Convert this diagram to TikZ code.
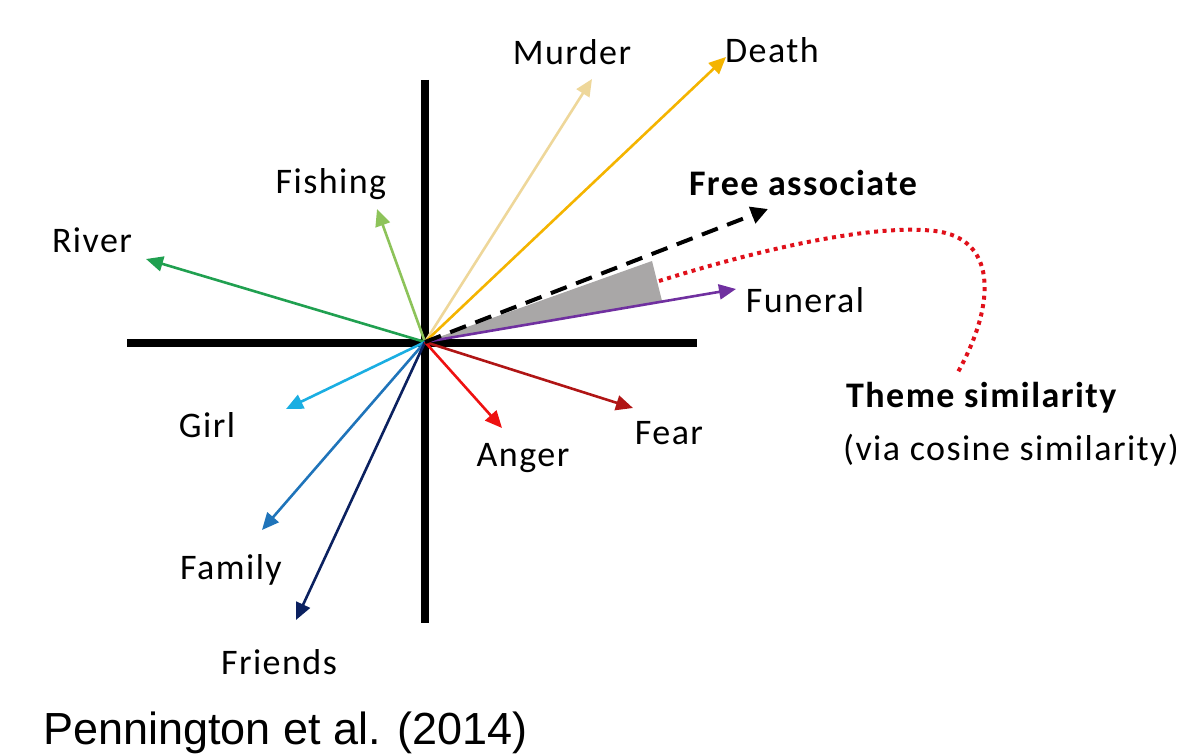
\documentclass[tikz,border=0pt]{standalone}
\usepackage{fontspec}
\setmainfont{Carlito}
\newfontfamily\arialfont{Liberation Sans}
\newfontfamily\lblfont[LetterSpace=4]{Carlito}
\usetikzlibrary{arrows.meta}
\definecolor{cMurder}{HTML}{EED79A}
\definecolor{cDeath}{HTML}{F4B400}
\definecolor{cFishing}{HTML}{8DC35A}
\definecolor{cRiver}{HTML}{20A050}
\definecolor{cFuneral}{HTML}{7030A0}
\definecolor{cGirl}{HTML}{1AAEE2}
\definecolor{cFamily}{HTML}{1F74BA}
\definecolor{cFriends}{HTML}{0B2160}
\definecolor{cAnger}{HTML}{EE1111}
\definecolor{cFear}{HTML}{B01515}
\definecolor{cWedge}{HTML}{A9A7A7}
\definecolor{cDots}{HTML}{E0101A}
\tikzset{
  vec/.style={line width=2.6pt, -{Triangle[length=17pt,width=15pt]}},
  axis/.style={line width=7.5pt, line cap=butt},
  lbl/.style={font=\lblfont\fontsize{36}{42}\selectfont, inner sep=0pt},
  blbl/.style={font=\lblfont\fontsize{36}{42}\selectfont\bfseries, inner sep=0pt},
}
\begin{document}
\begin{tikzpicture}[x=1pt,y=-1pt]
\useasboundingbox (0,0) rectangle (1183,754);
\coordinate (o) at (425,342);
% axes
\coordinate (xl) at (127,343);
\coordinate (xr) at (697,343);
\coordinate (yt) at (425,80);
\coordinate (yb) at (425,623);
\draw[axis] (xl) -- (xr);
\draw[axis] (yt) -- (yb);
% wedge
\coordinate (w1) at (652,261);
\coordinate (w2) at (662,301);
\fill[cWedge] (o) -- (w1) -- (w2) -- cycle;
% tips
\coordinate (tMurder) at (592,79);
\coordinate (tDeath) at (726,57);
\coordinate (tFishing) at (377,209);
\coordinate (tRiver) at (146,259);
\coordinate (tFree) at (768,209);
\coordinate (tFuneral) at (736,289);
\coordinate (tGirl) at (286,409);
\coordinate (tFamily) at (262,530);
\coordinate (tFriends) at (296,620);
\coordinate (tAnger) at (502,428);
\coordinate (tFear) at (633,408);
% vectors
\draw[vec, cMurder] (o) -- (tMurder);
\draw[vec, cDeath] (o) -- (tDeath);
\draw[vec, cFishing] (o) -- (tFishing);
\draw[vec, cRiver] (o) -- (tRiver);
\draw[vec, cFuneral] (o) -- (tFuneral);
\draw[vec, cGirl] (o) -- (tGirl);
\draw[vec, cFamily] (o) -- (tFamily);
\draw[vec, cFriends] (o) -- (tFriends);
\draw[vec, cAnger] (o) -- (tAnger);
\draw[vec, cFear] (o) -- (tFear);
\draw[line width=4pt, dash pattern=on 17pt off 10pt, -{Triangle[length=17pt,width=17pt]}] (o) -- (tFree);
% dotted curve
\coordinate (dStart) at (659,281);
\coordinate (dEnd) at (958,372);
\draw[cDots, line width=4pt, dash pattern=on 4pt off 4.5pt]
  (dStart) .. controls (790,240) and (885,225) .. (935,231)
  .. controls (995,238) and (998,300) .. (dEnd);
% labels
\node[lbl] (lMurder) at (572,52) {Murder};
\node[lbl] (lDeath) at (772,50) {Death};
\node[lbl] (lFishing) at (331,184) {Fishing};
\node[lbl] (lRiver) at (92,240) {River};
\node[blbl] (lFree) at (803,183) {Free associate};
\node[lbl] (lFuneral) at (805,300) {Funeral};
\node[blbl, anchor=west] (lTheme) at (846,398) {Theme similarity};
\node[lbl, anchor=west] (lVia) at (843,450) {(via cosine similarity)};
\node[lbl] (lGirl) at (207,425) {Girl};
\node[lbl] (lAnger) at (523,458) {Anger};
\node[lbl] (lFear) at (669,433) {Fear};
\node[lbl] (lFamily) at (231,570) {Family};
\node[lbl] (lFriends) at (279,662) {Friends};
\node[font=\arialfont\fontsize{45}{52}\selectfont, inner sep=0pt, anchor=west] (cite) at (43,733) {Pennington et al. (2014)};
\end{tikzpicture}
\end{document}
